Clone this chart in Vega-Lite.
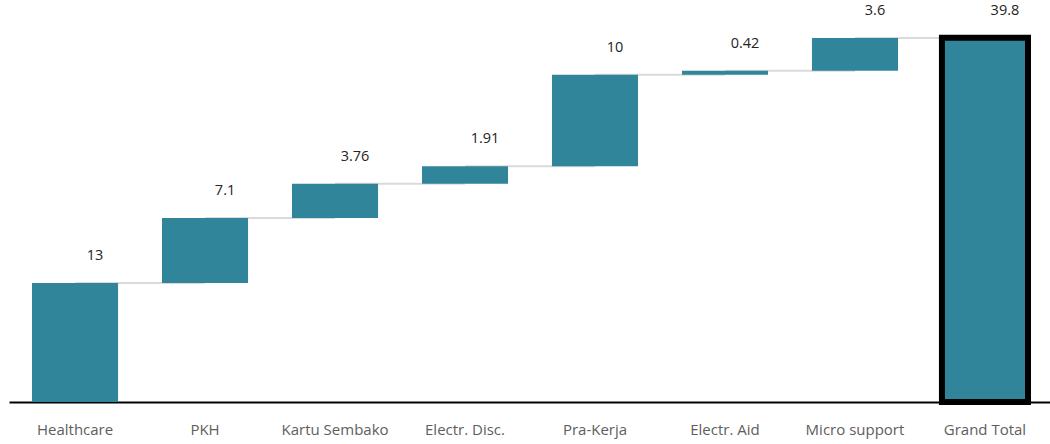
{
  "$schema": "https://vega.github.io/schema/vega-lite/v6.json",
  "width": 1042,
  "height": 366,
  "autosize": {"type": "none"},
  "padding": {"left": 9, "top": 36, "right": 0, "bottom": 42},
  "background": "white",
  "config": {"view": {"stroke": null}, "font": "Open Sans"},
  "data": {
    "values": [
      {"label": "Healthcare", "value": 13, "start": 0, "end": 13, "next": "PKH", "total": false},
      {"label": "PKH", "value": 7.1, "start": 13, "end": 20.1, "next": "Kartu Sembako", "total": false},
      {"label": "Kartu Sembako", "value": 3.76, "start": 20.1, "end": 23.86, "next": "Electr. Disc.", "total": false},
      {"label": "Electr. Disc.", "value": 1.91, "start": 23.86, "end": 25.77, "next": "Pra-Kerja", "total": false},
      {"label": "Pra-Kerja", "value": 10, "start": 25.77, "end": 35.77, "next": "Electr. Aid", "total": false},
      {"label": "Electr. Aid", "value": 0.42, "start": 35.77, "end": 36.19, "next": "Micro support", "total": false},
      {"label": "Micro support", "value": 3.6, "start": 36.19, "end": 39.79, "next": "Grand Total", "total": false},
      {"label": "Grand Total", "value": 39.8, "start": 0, "end": 39.8, "next": null, "total": true}
    ]
  },
  "encoding": {
    "x": {
      "field": "label",
      "type": "nominal",
      "sort": null,
      "scale": {"paddingInner": 0.338, "paddingOuter": 0.177},
      "axis": {
        "title": null,
        "labelAngle": 0,
        "ticks": false,
        "domainColor": "#000000",
        "domainWidth": 2,
        "labelFont": "Open Sans",
        "labelFontSize": 15,
        "labelColor": "#605E5C",
        "labelPadding": 20
      }
    }
  },
  "layer": [
    {
      "transform": [{"filter": "datum.next != null"}],
      "mark": {"type": "rule", "color": "#DADADA", "strokeWidth": 2},
      "encoding": {
        "x2": {"field": "next"},
        "y": {"field": "end", "type": "quantitative", "scale": {"domain": [0, 40], "nice": false}, "axis": null}
      }
    },
    {
      "mark": {"type": "bar", "color": "#31859B"},
      "encoding": {
        "y": {"field": "start", "type": "quantitative", "scale": {"domain": [0, 40], "nice": false}, "axis": null},
        "y2": {"field": "end"},
        "stroke": {
          "condition": {"test": "datum.total", "value": "#000000"},
          "value": null
        },
        "strokeWidth": {
          "condition": {"test": "datum.total", "value": 6},
          "value": 0
        }
      }
    },
    {
      "mark": {"type": "text", "font": "Open Sans", "fontSize": 14.5, "color": "#252423", "dx": 20, "dy": -27, "baseline": "middle"},
      "encoding": {
        "y": {"field": "end", "type": "quantitative", "scale": {"domain": [0, 40], "nice": false}, "axis": null},
        "text": {"field": "value", "type": "nominal"}
      }
    }
  ]
}
